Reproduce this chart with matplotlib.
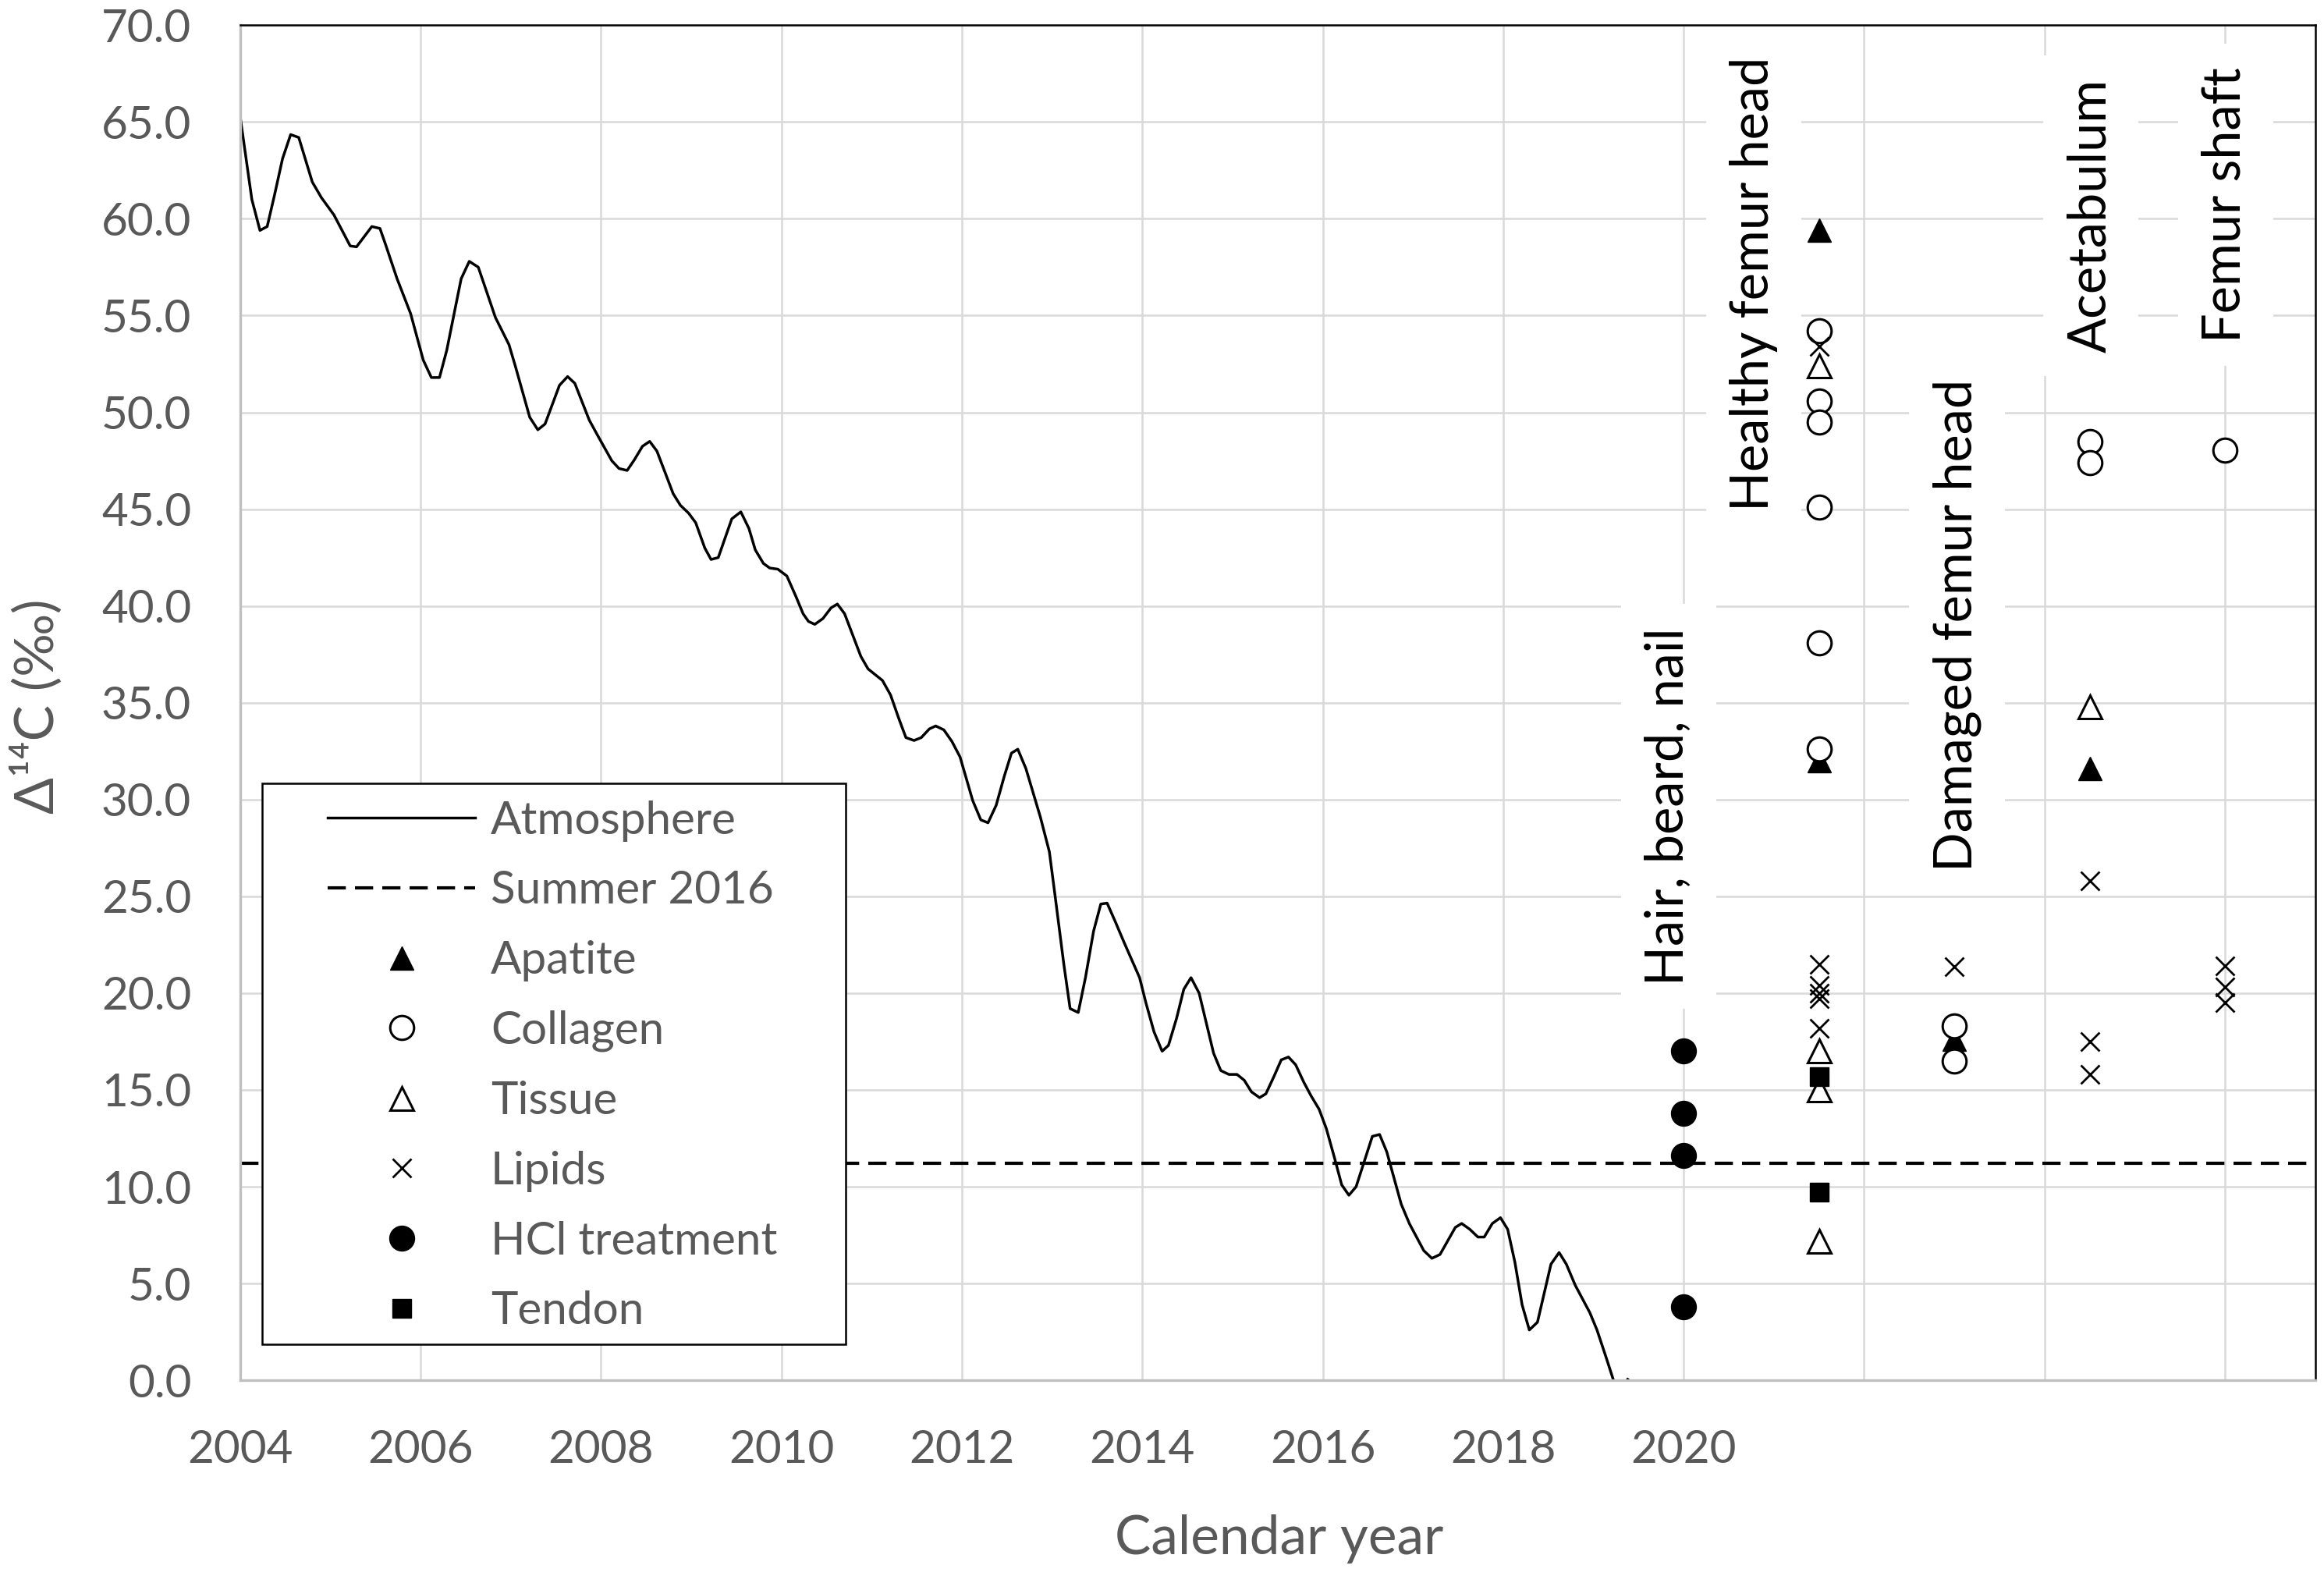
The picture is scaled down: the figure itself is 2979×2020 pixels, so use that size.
import matplotlib
matplotlib.use('Agg')
import matplotlib.pyplot as plt
from matplotlib.patches import Rectangle

plt.rcParams['font.family'] = ['Lato', 'DejaVu Sans']

# ---------------- data ----------------
atm_year = [2004.00, 2004.13, 2004.22, 2004.30, 2004.38, 2004.47, 2004.56, 2004.65, 2004.80, 2004.90,
            2005.04, 2005.22, 2005.29, 2005.46, 2005.55, 2005.61, 2005.74, 2005.89, 2006.03, 2006.12,
            2006.21, 2006.29, 2006.45, 2006.54, 2006.64, 2006.83, 2006.98, 2007.05, 2007.21, 2007.30,
            2007.38, 2007.54, 2007.63, 2007.71, 2007.87, 2007.97, 2008.12, 2008.20, 2008.29, 2008.37,
            2008.46, 2008.54, 2008.62, 2008.80, 2008.88, 2008.97, 2009.05, 2009.15, 2009.22, 2009.30,
            2009.45, 2009.55, 2009.64, 2009.71, 2009.80, 2009.87, 2009.96, 2010.06, 2010.16, 2010.24,
            2010.30, 2010.37, 2010.46, 2010.55, 2010.62, 2010.70, 2010.79, 2010.88, 2010.96, 2011.12,
            2011.21, 2011.30, 2011.38, 2011.47, 2011.55, 2011.64, 2011.71, 2011.80, 2011.89, 2011.98,
            2012.12, 2012.21, 2012.29, 2012.38, 2012.47, 2012.55, 2012.62, 2012.71, 2012.87, 2012.97,
            2013.03, 2013.13, 2013.20, 2013.29, 2013.37, 2013.46, 2013.54, 2013.61, 2013.70, 2013.80,
            2013.97, 2014.04, 2014.13, 2014.22, 2014.29, 2014.38, 2014.46, 2014.54, 2014.63, 2014.79,
            2014.87, 2014.96, 2015.05, 2015.13, 2015.21, 2015.30, 2015.37, 2015.46, 2015.54, 2015.62,
            2015.70, 2015.79, 2015.87, 2015.96, 2016.04, 2016.13, 2016.21, 2016.29, 2016.37, 2016.46,
            2016.55, 2016.63, 2016.71, 2016.87, 2016.96, 2017.12, 2017.21, 2017.30, 2017.47, 2017.54,
            2017.63, 2017.72, 2017.79, 2017.88, 2017.97, 2018.05, 2018.13, 2018.21, 2018.29, 2018.38,
            2018.53, 2018.62, 2018.70, 2018.80, 2018.96, 2019.04, 2019.14, 2019.23, 2019.30, 2019.38]
atm_d14c = [65.3, 61.0, 59.4, 59.6, 61.2, 63.1, 64.35, 64.2, 61.9, 61.1,
            60.2, 58.6, 58.55, 59.6, 59.5, 58.7, 56.9, 55.1, 52.7, 51.8,
            51.8, 53.2, 56.9, 57.8, 57.5, 54.9, 53.5, 52.4, 49.75, 49.1,
            49.4, 51.4, 51.85, 51.5, 49.6, 48.75, 47.5, 47.1, 47.0, 47.55,
            48.25, 48.5, 48.0, 45.8, 45.2, 44.8, 44.3, 43.0, 42.4, 42.5,
            44.5, 44.86, 44.0, 42.9, 42.2, 41.96, 41.9, 41.55, 40.5, 39.6,
            39.2, 39.05, 39.35, 39.9, 40.1, 39.6, 38.5, 37.4, 36.75, 36.15,
            35.4, 34.2, 33.2, 33.05, 33.2, 33.65, 33.8, 33.6, 33.0, 32.2,
            29.95, 28.95, 28.8, 29.7, 31.2, 32.4, 32.6, 31.6, 29.1, 27.3,
            25.15, 21.5, 19.2, 19.0, 20.8, 23.2, 24.6, 24.65, 23.7, 22.6,
            20.8, 19.5, 18.0, 17.0, 17.3, 18.7, 20.2, 20.8, 20.0, 16.9,
            16.0, 15.8, 15.8, 15.5, 14.9, 14.6, 14.8, 15.7, 16.55, 16.7,
            16.3, 15.4, 14.7, 14.0, 13.0, 11.5, 10.1, 9.56, 10.0, 11.3,
            12.6, 12.7, 11.8, 9.1, 8.1, 6.7, 6.3, 6.5, 7.9, 8.1,
            7.8, 7.4, 7.4, 8.1, 8.4, 7.8, 6.1, 3.9, 2.6, 3.0,
            6.0, 6.6, 6.0, 4.9, 3.5, 2.6, 1.2, -0.1, -0.5, 0.05]
summer_2016 = 11.2

groups = ['Hair, beard, nail', 'Healthy femur head', 'Damaged femur head', 'Acetabulum', 'Femur shaft']
group_year = [2020.0, 2021.5, 2023.0, 2024.5, 2026.0]

apatite = {'Healthy femur head': [59.4, 32.0], 'Damaged femur head': [17.6], 'Acetabulum': [31.6]}
collagen = {'Healthy femur head': [54.2, 50.6, 49.5, 45.1, 38.1, 32.6],
            'Damaged femur head': [18.3, 16.5], 'Acetabulum': [48.5, 47.4], 'Femur shaft': [48.05]}
tissue = {'Healthy femur head': [52.4, 17.0, 15.0, 7.2], 'Acetabulum': [34.8]}
lipids = {'Healthy femur head': [53.4, 21.5, 20.4, 20.0, 19.7, 18.2], 'Damaged femur head': [21.35],
          'Acetabulum': [25.8, 17.5, 15.8], 'Femur shaft': [21.4, 20.3, 19.5]}
hcl = {'Hair, beard, nail': [17.0, 13.8, 11.6, 3.8]}
tendon = {'Healthy femur head': [15.7, 9.7]}

x_ticks = [2004, 2006, 2008, 2010, 2012, 2014, 2016, 2018, 2020, 2022, 2024, 2026]
x_ticklabels = ['2004', '2006', '2008', '2010', '2012', '2014', '2016', '2018', '2020', '', '', '']
y_ticks = [0, 5, 10, 15, 20, 25, 30, 35, 40, 45, 50, 55, 60, 65, 70]


def xy(series):
    xs, ys = [], []
    for g, vals in series.items():
        for v in vals:
            xs.append(group_year[groups.index(g)])
            ys.append(v)
    return xs, ys


# ---------------- layout ----------------
GRAY_TXT = '#595959'
fig = plt.figure(figsize=(29.79, 20.20), dpi=100)
ax = fig.add_axes([0.10332, 0.12418, 0.89286, 0.85983])
ax.set_xlim(2004, 2027)
ax.set_ylim(0, 70)

ax.set_xticks(x_ticks)
ax.set_xticklabels(x_ticklabels)
ax.set_yticks(y_ticks)
ax.set_yticklabels([f'{v:.1f}' for v in y_ticks])
ax.tick_params(length=0, labelsize=42, labelcolor=GRAY_TXT, pad=45)
ax.grid(True, color='#d9d9d9', lw=1.8, zorder=0)
ax.set_axisbelow(True)

for s in ['left', 'bottom']:
    ax.spines[s].set_color('#bfbfbf')
    ax.spines[s].set_linewidth(2.4)
for s in ['top', 'right']:
    ax.spines[s].set_color('black')
    ax.spines[s].set_linewidth(1.8)
for s in ax.spines.values():
    s.set_zorder(6)

# atmosphere curve and summer 2016 line
ax.plot(atm_year, atm_d14c, color='black', lw=2.5, zorder=4, label='Atmosphere')
ax.axhline(summer_2016, color='black', lw=3, linestyle=(0, (5.6, 2.8)), zorder=4, label='Summer 2016')

# sample labels
label_anchor = {'Hair, beard, nail': (2020.0, 20.4), 'Healthy femur head': (2020.94, 44.9),
                'Damaged femur head': (2023.19, 26.3), 'Acetabulum': (2024.68, 53.1),
                'Femur shaft': (2026.17, 53.6)}
for g in groups:
    lx, ly = label_anchor[g]
    ax.text(lx, ly, g, rotation=90, rotation_mode='anchor', ha='left', va='baseline',
            fontsize=48, color='black', zorder=3,
            bbox=dict(facecolor='white', edgecolor='none', boxstyle='square,pad=0.45'))

# sample markers
ms_kw = dict(linestyle='none', zorder=5)
ax.plot(*xy(apatite), marker='^', ms=22, mfc='black', mec='black', label='Apatite', **ms_kw)
ax.plot(*xy(collagen), marker='o', ms=22, mfc='white', mec='black', mew=2.2, label='Collagen', **ms_kw)
ax.plot(*xy(tissue), marker='^', ms=22, mfc='white', mec='black', mew=2.2, label='Tissue', **ms_kw)
ax.plot(*xy(lipids), marker='x', ms=17, mec='black', mew=2.0, label='Lipids', **ms_kw)
ax.plot(*xy(hcl), marker='o', ms=23, mfc='black', mec='black', label='HCl treatment', **ms_kw)
ax.plot(*xy(tendon), marker='s', ms=17, mfc='black', mec='black', label='Tendon', **ms_kw)

# legend
frame = Rectangle((0.0106, 0.0265), 0.2812, 0.414, transform=ax.transAxes,
                  facecolor='white', edgecolor='black', lw=1.8, zorder=7)
ax.add_patch(frame)
leg = ax.legend(loc='upper left', bbox_to_anchor=(0.0422, 0.4281), bbox_transform=ax.transAxes,
                frameon=False, borderpad=0, borderaxespad=0, handlelength=3.24,
                handletextpad=0.34, labelspacing=0.63, fontsize=42, labelcolor=GRAY_TXT)
leg.set_zorder(8)

# axis titles
fig.text(47 / 2979, 0.552, 'Δ¹⁴C (‰)', rotation=90, ha='center', va='center',
         fontsize=50, color=GRAY_TXT)
fig.text(0.5504, 0.0235, 'Calendar year', ha='center', va='center', fontsize=50, color=GRAY_TXT)

fig.savefig('out.png', dpi=100)
